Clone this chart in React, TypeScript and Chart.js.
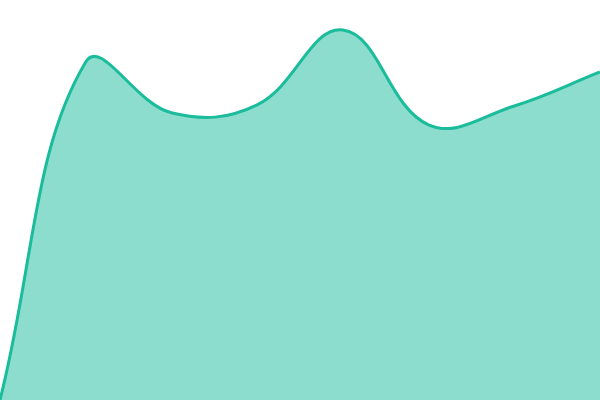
import React, { useEffect, useRef } from 'react';
import Chart from 'chart.js/auto';

const labels = ['1', '2', '3', '4', '5', '6', '7', '8'];
const values = [0, 84.5, 71.8, 73.8, 92.5, 68.8, 73.5, 82];

const App: React.FC = () => {
    const canvasRef = useRef<HTMLCanvasElement>(null);
    const chartRef = useRef<Chart | null>(null);

    useEffect(() => {
        if (!canvasRef.current) return;
        chartRef.current = new Chart(canvasRef.current, {
            type: 'line',
            data: {
                labels: labels,
                datasets: [{
                    data: values,
                    borderColor: '#1abc9c',
                    backgroundColor: 'rgba(26, 188, 156, 0.5)',
                    borderWidth: 3,
                    fill: true,
                    tension: 0.4,
                    pointRadius: 0,
                }]
            },
            options: {
                animation: false,
                responsive: true,
                maintainAspectRatio: false,
                layout: { padding: 0 },
                plugins: { legend: { display: false }, tooltip: { enabled: false } },
                scales: {
                    x: { display: false, offset: false },
                    y: { display: false, min: 0, max: 100 }
                }
            }
        });
        return () => {
            if (chartRef.current) chartRef.current.destroy();
        };
    }, []);

    return (
        <div style={{ position: 'fixed', left: 0, top: 0, width: 600, height: 400, background: '#fff' }}>
            <canvas ref={canvasRef}></canvas>
        </div>
    );
};

export default App;
